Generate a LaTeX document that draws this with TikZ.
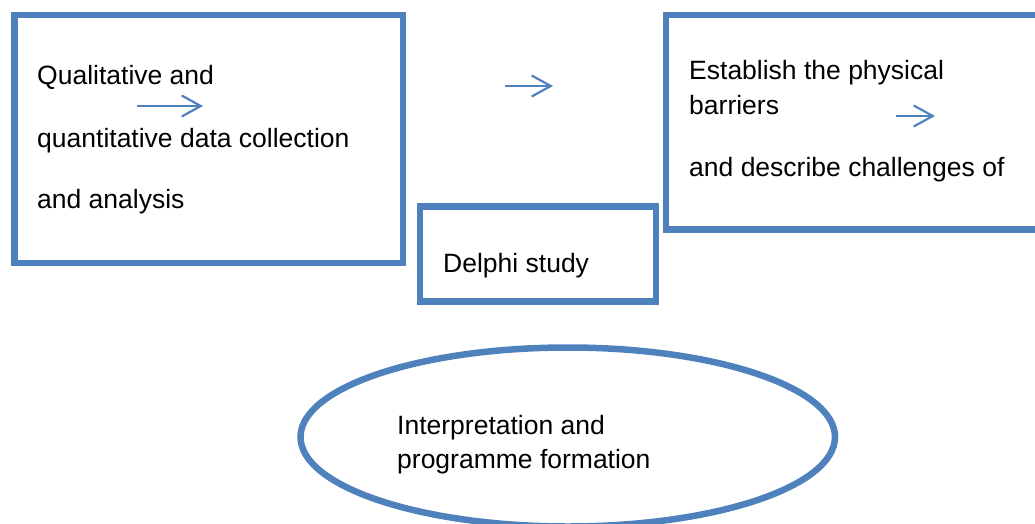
\documentclass[tikz,border=0pt]{standalone}
\usepackage{fontspec}
\setmainfont{Liberation Sans}
\usepackage{xcolor}
\usetikzlibrary{arrows.meta,calc,positioning,shapes.geometric}
\definecolor{wordblue}{RGB}{79,129,189}
\tikzset{
	box/.style = {draw=wordblue, rectangle, line width=6.5pt,
		inner sep=0pt, outer sep=0pt},
	oval/.style = {draw=wordblue, ellipse, line width=6.5pt,
		inner sep=0pt, outer sep=0pt},
	txt/.style = {anchor=base west, inner sep=0pt,
		font=\fontsize{26.5}{30}\selectfont},
	flowarrow/.style = {draw=wordblue, line width=2.2pt,
		-{Straight Barb[length=19pt,width=21pt,line width=2.2pt]}},
}

\begin{document}
\begin{tikzpicture}[x=1pt, y=-1pt]
	\useasboundingbox (0,0) rectangle (1035,524);
	\clip (0,0) rectangle (1035,524);
	%Nodes
	\node[box, minimum width=388.5pt, minimum height=248pt]   (qual)   at (208.75,139) {};
	\node[box, minimum width=236pt, minimum height=95pt]      (delphi) at (538,254) {};
	\node[box, minimum width=394pt, minimum height=214.7pt]   (estab)  at (863,122.35) {};
	\node[oval, minimum width=534.5pt, minimum height=179pt]  (interp) at (567.75,437) {};
%	%Texts
	\node[txt] (qualA)   at ($(qual.north west)+(22.5,70)$)   {Qualitative and};
	\node[txt] (qualB)   at ($(qual.north west)+(22.5,132)$)  {quantitative data collection};
	\node[txt] (qualC)   at ($(qual.north west)+(22.5,193)$)  {and analysis};
	\node[txt] (delphiA) at ($(delphi.north west)+(23,65.5)$) {Delphi study};
	\node[txt] (estabA)  at ($(estab.north west)+(23,65)$)    {Establish the physical};
	\node[txt] (estabB)  at ($(estab.north west)+(23,99)$)    {barriers};
	\node[txt] (estabC)  at ($(estab.north west)+(23,161)$)   {and describe challenges of};
	\node[txt] (interpA) at ($(interp.west)+(96.5,-3)$)       {Interpretation and};
	\node[txt] (interpB) at ($(interp.west)+(96.5,31)$)       {programme formation};
%	%Arrows
	\coordinate (arrA1) at (137,106);
	\coordinate (arrA2) at (203,106);
	\coordinate (arrB1) at (505,86);
	\coordinate (arrB2) at (553,86);
	\coordinate (arrC1) at (896,116);
	\coordinate (arrC2) at (935,116);
	\draw[flowarrow] (arrA1) -- (arrA2);
	\draw[flowarrow] (arrB1) -- (arrB2);
	\draw[flowarrow] (arrC1) -- (arrC2);
\end{tikzpicture}
\end{document}
